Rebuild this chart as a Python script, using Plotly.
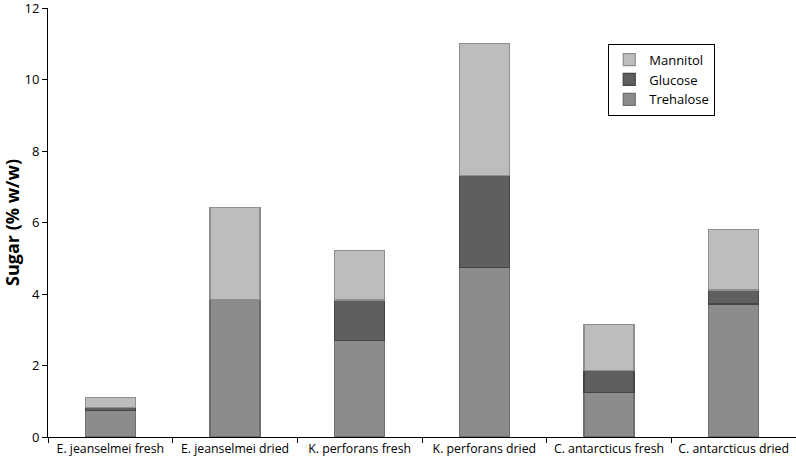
import plotly.graph_objects as go

categories = ["E. jeanselmei fresh", "E. jeanselmei dried", "K. perforans fresh",
              "K. perforans dried", "C. antarcticus fresh", "C. antarcticus dried"]
trehalose = [0.75, 3.85, 2.70, 4.75, 1.25, 3.72]
glucose = [0.07, 0.0, 1.13, 2.56, 0.61, 0.39]
mannitol = [0.28, 2.58, 1.39, 3.70, 1.28, 1.70]
y_ticks = [0, 2, 4, 6, 8, 10, 12]

font = "Open Sans, Liberation Sans, sans-serif"

fig = go.Figure()
fig.add_trace(go.Bar(name="Trehalose", x=categories, y=trehalose, width=0.4,
                     marker=dict(color="#8c8c8c", line=dict(color="#6e6e6e", width=1.2))))
fig.add_trace(go.Bar(name="Glucose", x=categories, y=glucose, width=0.4,
                     marker=dict(color="#5f5f5f", line=dict(color="#444444", width=1.2))))
fig.add_trace(go.Bar(name="Mannitol", x=categories, y=mannitol, width=0.4,
                     marker=dict(color="#bdbdbd", line=dict(color="#8e8e8e", width=1.2))))

fig.update_layout(
    barmode="stack",
    width=796, height=462,
    margin=dict(l=48, r=0, t=8, b=25, autoexpand=False),
    paper_bgcolor="white", plot_bgcolor="white",
    font=dict(family=font, color="black"),
    legend=dict(traceorder="reversed", x=0.749, y=0.917, xanchor="left", yanchor="top",
                bordercolor="black", borderwidth=1, bgcolor="white",
                font=dict(size=13, family=font), tracegroupgap=0),
    xaxis=dict(showline=True, linecolor="black", linewidth=1, ticks="outside",
               tickson="boundaries", ticklen=5, tickcolor="black", automargin=False,
               tickfont=dict(size=12.3, family=font), showgrid=False),
    yaxis=dict(range=[0, 12], tickvals=y_ticks, showline=True, linecolor="black", linewidth=1,
               ticks="outside", ticklen=5, tickcolor="black", showgrid=False, zeroline=False,
               automargin=False, ticklabeloverflow="allow", tickfont=dict(size=13, family=font),
               title=dict(text="<b>Sugar (% w/w)</b>", font=dict(size=18, family=font), standoff=2)),
)

fig.write_html("out.html", config={"displayModeBar": False},
               post_script="document.body.style.margin='0';document.body.style.overflow='hidden';")
